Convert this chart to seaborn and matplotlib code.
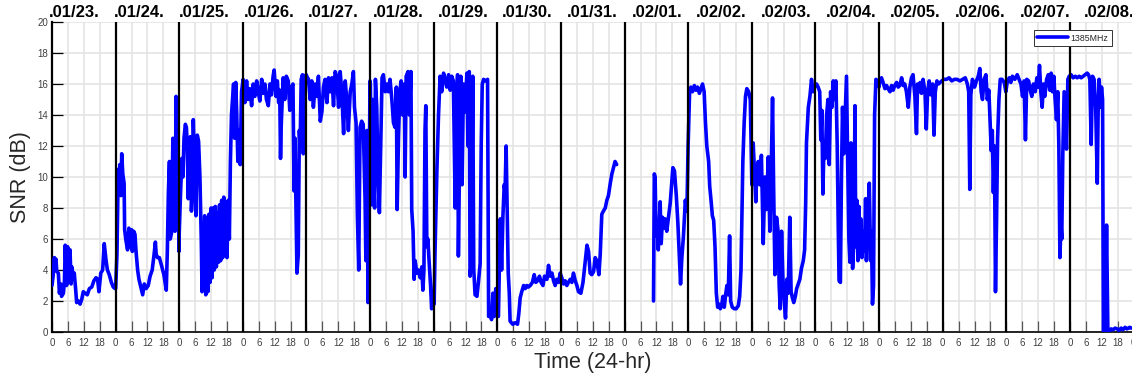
import numpy as np
import pandas as pd
import matplotlib
matplotlib.use("Agg")
import matplotlib.pyplot as plt
import matplotlib.transforms as mtransforms
import seaborn as sns

# ---- data -------------------------------------------------------------
day_labels = [".01/23.", ".01/24.", ".01/25.", ".01/26.", ".01/27.", ".01/28.",
              ".01/29.", ".01/30.", ".01/31.", ".02/01.", ".02/02.", ".02/03.",
              ".02/04.", ".02/05.", ".02/06.", ".02/07.", ".02/08."]
tick_labels = ["0", "6", "12", "18"]
series_name = "1385MHz"

# (hour of day, SNR in dB) per day
d0123 = [(0.0, 3.0), (0.4, 3.6), (0.9, 4.8), (1.2, 4.2), (1.5, 4.7), (1.8, 3.9), (2.4, 3.8),
         (2.8, 2.5), (3.3, 3.1), (3.6, 2.3), (4.3, 2.5), (4.7, 3.3), (5.0, 5.6), (5.5, 3.0),
         (5.9, 5.5), (6.3, 3.2), (6.8, 5.3), (7.2, 3.1), (7.5, 4.2), (8.1, 3.4), (8.4, 3.8),
         (8.9, 2.8), (9.3, 1.9), (9.9, 2.0), (10.6, 1.8), (11.2, 2.1), (11.8, 2.6), (12.5, 2.5),
         (13.3, 2.4), (14.1, 2.8), (15.0, 2.9), (15.8, 3.3), (16.6, 3.5), (17.2, 3.4), (17.7, 2.6),
         (18.4, 3.8), (19.1, 4.0), (19.7, 5.7), (20.4, 4.6), (20.9, 4.0), (21.6, 3.7), (22.4, 3.2),
         (23.1, 2.9), (23.8, 2.8)]
d0124 = [(0.0, 2.8), (0.5, 5.0), (1.0, 10.5), (1.3, 9.0), (1.6, 10.8), (2.0, 8.8), (2.3, 11.5),
         (2.7, 10.2), (3.2, 9.6), (3.4, 6.6), (3.9, 5.9), (4.5, 5.3), (5.0, 6.7), (5.5, 5.5),
         (6.0, 6.6), (6.3, 5.2), (6.8, 6.5), (7.3, 6.3), (7.7, 5.2), (8.3, 4.0), (8.8, 3.4),
         (9.5, 2.9), (10.2, 2.4), (10.8, 3.1), (11.5, 2.8), (12.3, 3.0), (13.0, 3.6), (13.8, 4.0),
         (14.5, 5.0), (15.0, 5.8), (15.3, 5.0), (15.8, 4.8), (16.5, 4.8), (17.3, 4.3), (18.2, 3.7),
         (19.1, 2.7), (19.5, 5.2), (19.9, 9.0), (20.3, 11.0), (20.6, 6.0), (21.1, 6.4), (21.6, 12.5),
         (22.0, 9.0), (22.4, 6.5), (22.8, 15.2), (23.2, 9.0), (23.6, 11.5), (23.9, 5.2)]
d0125 = [(0.0, 6.4), (0.5, 9.0), (1.0, 11.2), (1.4, 10.0), (1.8, 12.5), (2.3, 13.4), (2.7, 13.2),
         (3.0, 12.2), (3.4, 8.6), (3.8, 11.5), (4.2, 12.6), (4.6, 7.8), (5.0, 9.5), (5.3, 13.7),
         (5.8, 10.5), (6.3, 7.5), (6.8, 12.7), (7.3, 12.3), (7.8, 10.0), (8.3, 6.0), (8.6, 2.6),
         (8.9, 7.0), (9.2, 3.0), (9.6, 7.5), (10.0, 2.4), (10.4, 6.2), (10.8, 2.6), (11.2, 7.6),
         (11.6, 3.2), (12.0, 8.0), (12.4, 3.5), (12.8, 8.0), (13.2, 4.0), (13.6, 8.1), (14.0, 4.2),
         (14.4, 7.7), (14.8, 4.5), (15.2, 8.2), (15.6, 4.6), (16.0, 8.5), (16.4, 4.8), (16.8, 8.7),
         (17.2, 5.0), (17.6, 8.4), (18.0, 4.8), (18.5, 8.5), (18.9, 6.0), (19.3, 11.0), (19.7, 14.0),
         (20.1, 15.0), (20.5, 16.0), (20.9, 12.5), (21.3, 16.1), (21.7, 14.0), (22.1, 11.0),
         (22.5, 13.0), (23.0, 10.8), (23.5, 15.5), (23.9, 16.0)]
d0126 = [(0.1, 16.3), (0.75, 14.8), (1.4, 16.2), (2.0, 15.0), (2.6, 15.7), (3.3, 14.6), (3.9, 16.0),
         (4.5, 15.2), (5.2, 16.2), (5.8, 15.5), (6.4, 14.9), (7.1, 16.3), (7.7, 15.4), (8.3, 16.0),
         (8.9, 15.0), (9.6, 14.6), (10.2, 16.0), (10.8, 15.3), (11.4, 16.5), (11.8, 16.9),
         (12.5, 15.2), (13.0, 16.2), (13.5, 14.8), (13.9, 15.6), (14.2, 11.2), (14.5, 13.5),
         (15.2, 16.4), (15.8, 15.0), (16.4, 16.5), (17.1, 16.2), (17.7, 14.3), (18.3, 15.8),
         (18.9, 16.0), (19.3, 9.1), (19.7, 12.5), (20.0, 8.4), (20.4, 3.8), (20.9, 5.0),
         (21.3, 13.0), (21.6, 12.0), (22.0, 16.3), (22.5, 16.6), (22.8, 11.5), (23.3, 16.5),
         (23.9, 16.6)]
d0127 = [(0.1, 16.5), (0.75, 16.3), (1.4, 15.0), (2.0, 16.2), (2.6, 14.5), (3.3, 16.0), (3.9, 15.2),
         (4.5, 16.5), (5.2, 13.6), (5.8, 14.2), (6.4, 15.8), (7.0, 16.3), (7.7, 14.8), (8.3, 16.4),
         (8.9, 15.5), (9.6, 16.4), (10.2, 14.6), (10.8, 16.8), (11.4, 16.5), (12.1, 14.5),
         (12.7, 16.8), (13.3, 15.5), (14.0, 12.8), (14.6, 16.2), (15.2, 15.0), (15.8, 13.0),
         (16.5, 15.5), (17.1, 16.0), (17.7, 16.8), (18.1, 14.5), (18.7, 13.5), (19.2, 7.5),
         (19.7, 4.0), (20.2, 13.2), (20.8, 13.6), (21.4, 13.4), (22.1, 8.5), (22.4, 4.6),
         (22.8, 13.0), (23.2, 1.9), (23.6, 8.0), (23.95, 16.2)]
d0128 = [(0.1, 16.0), (0.5, 8.2), (0.9, 15.0), (1.3, 10.3), (1.7, 8.0), (2.0, 16.3), (2.5, 14.5),
         (3.0, 10.0), (3.5, 7.7), (4.0, 12.0), (4.5, 16.4), (5.0, 16.6), (5.7, 15.5), (6.3, 16.0),
         (6.9, 15.5), (7.5, 16.3), (8.2, 15.0), (8.8, 13.5), (9.4, 13.2), (9.9, 15.8), (10.2, 7.9),
         (10.7, 12.5), (11.2, 15.5), (11.7, 16.2), (12.3, 14.0), (12.9, 16.0), (13.2, 10.0),
         (13.6, 16.5), (14.3, 16.8), (14.8, 14.0), (15.4, 16.8), (15.7, 7.9), (16.2, 6.5),
         (16.6, 3.4), (17.0, 4.6), (17.6, 3.8), (18.2, 4.0), (18.9, 3.5), (19.5, 4.2), (19.9, 2.7),
         (20.3, 4.0), (20.7, 13.0), (21.0, 14.6), (21.4, 5.5), (21.8, 6.0), (22.2, 4.7),
         (22.8, 3.0), (23.2, 1.5), (23.6, 2.0), (23.95, 1.8)]
d0129 = [(0.15, 1.8), (0.5, 5.3), (1.2, 10.5), (1.8, 14.0), (2.4, 16.5), (3.0, 15.5), (3.7, 16.7),
         (4.3, 16.3), (4.9, 15.8), (5.6, 16.6), (6.2, 15.6), (6.8, 16.5), (7.4, 16.2), (8.1, 8.0),
         (8.5, 14.8), (9.0, 16.6), (9.3, 4.9), (9.7, 10.5), (10.2, 16.5), (10.7, 9.5), (11.2, 16.0),
         (11.8, 14.2), (12.5, 16.7), (12.9, 12.0), (13.4, 16.8), (13.7, 3.6), (14.2, 4.5),
         (14.7, 16.5), (15.1, 4.0), (15.6, 2.4), (16.3, 2.3), (16.9, 3.3), (17.5, 4.4), (17.9, 12.0),
         (18.3, 16.0), (18.8, 16.3), (19.5, 16.2), (20.3, 16.3), (20.7, 1.0), (21.3, 1.3),
         (21.8, 0.8), (22.3, 2.5), (22.8, 1.0), (23.4, 2.8), (23.9, 1.3)]
d0130 = [(0.4, 1.0), (1.1, 7.3), (1.6, 4.0), (2.1, 7.5), (2.6, 9.5), (2.9, 9.0), (3.3, 12.0),
         (3.7, 8.0), (4.1, 3.8), (4.5, 2.5), (4.8, 0.7), (5.8, 0.5), (6.8, 0.6), (7.6, 0.5),
         (8.1, 1.2), (8.6, 2.2), (9.2, 2.6), (9.9, 3.0), (10.5, 2.8), (11.1, 3.0), (11.7, 2.9),
         (12.4, 3.0), (13.2, 3.2), (13.9, 3.7), (14.5, 3.2), (15.1, 3.3), (15.9, 3.6), (16.5, 3.2),
         (17.2, 3.0), (17.8, 3.6), (18.7, 3.4), (19.3, 4.3), (19.9, 3.6), (20.6, 3.8), (21.2, 3.3),
         (21.8, 3.0), (22.4, 3.4), (23.1, 3.2), (23.7, 3.8)]
d0131 = [(0.3, 3.5), (1.0, 3.1), (1.6, 3.3), (2.2, 3.0), (2.8, 3.2), (3.5, 3.4), (4.1, 3.2),
         (4.7, 3.8), (5.4, 3.3), (6.0, 3.0), (6.6, 2.6), (7.5, 2.5), (8.3, 3.2), (9.1, 4.5),
         (9.8, 5.6), (10.4, 5.2), (11.0, 3.8), (11.6, 3.7), (12.3, 3.9), (12.9, 4.8), (13.5, 4.6),
         (14.3, 3.7), (14.8, 5.0), (15.4, 7.6), (16.0, 7.8), (16.7, 8.0), (17.3, 8.5), (17.9, 8.8),
         (18.6, 9.6), (19.2, 10.2), (19.8, 10.6), (20.4, 11.0), (21.0, 10.8)]
d0201 = [(10.9, 2.0), (11.2, 10.2), (11.5, 10.0), (11.9, 6.2), (12.3, 7.0), (12.7, 5.3), (13.1, 7.0),
         (13.4, 8.4), (13.8, 5.7), (14.3, 7.4), (14.8, 6.7), (15.3, 7.3), (15.9, 6.5), (16.6, 7.5),
         (17.2, 8.3), (17.7, 9.5), (18.2, 10.6), (18.8, 10.4), (19.5, 8.8), (20.1, 7.0), (20.6, 5.0),
         (21.1, 3.1), (21.6, 4.8), (22.2, 6.2), (22.9, 8.5), (23.5, 7.8), (23.95, 12.0)]
d0202 = [(0.5, 15.4), (1.0, 15.8), (1.6, 15.5), (2.3, 15.9), (2.9, 15.6), (3.5, 15.8), (4.2, 15.4),
         (4.8, 15.7), (5.4, 16.0), (6.0, 15.5), (6.5, 13.5), (7.0, 12.0), (7.7, 11.0), (8.1, 9.4),
         (8.6, 8.5), (9.1, 7.5), (9.6, 7.2), (10.1, 5.5), (10.6, 2.5), (11.1, 1.6), (11.6, 1.8),
         (12.1, 1.5), (12.6, 1.7), (13.1, 2.3), (13.6, 1.6), (14.1, 2.4), (14.6, 3.0), (15.1, 2.4),
         (15.6, 6.2), (16.0, 2.0), (16.6, 1.6), (17.4, 1.5), (18.1, 1.5), (18.9, 1.7), (19.4, 2.3),
         (19.9, 4.0), (20.3, 8.0), (20.6, 11.0), (21.1, 13.5), (21.6, 15.2), (22.1, 15.7),
         (22.8, 15.5), (23.4, 15.0), (23.8, 11.5)]
d0203 = [(0.0, 9.5), (0.5, 12.2), (1.1, 10.0), (1.5, 8.4), (1.9, 10.6), (2.4, 11.0), (3.0, 9.5),
         (3.6, 11.4), (4.3, 5.7), (4.9, 10.0), (5.5, 7.9), (6.2, 11.3), (6.8, 6.5), (7.3, 10.5),
         (7.8, 15.1), (8.2, 9.5), (8.7, 3.7), (9.3, 7.4), (9.9, 6.5), (10.3, 3.0), (10.7, 1.5),
         (11.2, 6.5), (11.7, 3.5), (12.2, 2.0), (12.7, 0.9), (13.2, 3.4), (13.7, 2.5), (14.3, 7.4),
         (14.8, 2.6), (15.3, 2.2), (15.8, 1.9), (16.4, 2.3), (16.9, 2.8), (17.5, 3.1), (18.1, 3.4),
         (18.7, 4.1), (19.4, 4.6), (19.9, 5.3), (20.3, 8.3), (20.6, 12.2), (21.3, 14.5),
         (21.9, 15.2), (22.5, 16.3), (23.1, 15.5), (23.8, 15.9)]
d0204 = [(0.4, 16.0), (1.0, 15.8), (1.6, 15.5), (2.0, 12.4), (2.4, 14.3), (2.8, 8.9), (3.2, 12.2),
         (3.7, 11.2), (4.2, 14.0), (4.7, 15.0), (5.2, 10.8), (5.7, 15.5), (6.2, 14.5), (6.7, 16.2),
         (7.2, 15.0), (7.7, 16.2), (8.2, 12.0), (8.6, 6.6), (8.9, 3.3), (9.4, 3.2), (9.8, 10.0),
         (10.2, 14.5), (10.7, 11.5), (11.2, 14.0), (11.7, 16.5), (12.1, 11.5), (12.6, 6.0),
         (13.0, 4.5), (13.4, 12.2), (13.7, 7.0), (14.0, 4.1), (14.5, 6.0), (14.9, 14.6),
         (15.2, 5.5), (15.6, 8.5), (16.0, 4.6), (16.4, 8.1), (16.7, 5.0), (17.1, 7.3), (17.5, 4.8),
         (18.0, 6.5), (18.5, 5.2), (18.9, 8.6), (19.2, 4.6), (19.7, 7.0), (20.3, 9.6), (20.8, 4.6),
         (21.1, 6.5), (21.5, 1.8), (21.9, 3.0), (22.3, 14.0), (22.8, 16.3), (23.5, 16.2),
         (23.95, 15.8)]
d0205 = [(0.3, 16.2), (0.9, 16.4), (1.5, 16.1), (2.2, 15.7), (2.8, 15.9), (3.4, 15.7), (4.1, 15.5),
         (4.7, 15.9), (5.3, 15.6), (5.9, 15.9), (6.6, 16.1), (7.2, 15.8), (7.8, 15.9), (8.5, 16.4),
         (9.1, 15.9), (9.7, 16.0), (10.3, 15.5), (11.0, 14.5), (11.6, 15.8), (12.2, 16.4),
         (12.8, 16.6), (13.5, 15.2), (14.1, 12.8), (14.5, 16.0), (15.0, 15.5), (15.5, 16.1),
         (16.0, 15.4), (16.6, 16.3), (17.3, 15.5), (17.8, 13.1), (18.3, 15.5), (18.9, 16.2),
         (19.5, 15.3), (20.2, 16.0), (20.7, 12.7), (21.2, 15.5), (21.8, 16.2), (22.4, 16.0),
         (23.0, 16.1), (23.7, 16.2)]
d0206 = [(0.4, 16.3), (1.4, 16.3), (2.4, 16.4), (3.4, 16.2), (4.4, 16.3), (5.4, 16.3), (6.5, 16.2),
         (7.5, 16.3), (8.5, 16.4), (9.3, 16.0), (9.8, 15.5), (10.2, 9.2), (10.6, 15.3), (11.2, 16.3),
         (12.0, 15.8), (12.7, 16.2), (13.4, 16.5), (14.0, 17.0), (14.5, 15.5), (15.0, 15.0),
         (15.6, 16.3), (16.3, 16.6), (16.8, 15.0), (17.4, 15.6), (17.9, 13.5), (18.3, 11.7),
         (18.7, 13.0), (19.1, 9.0), (19.5, 12.0), (19.9, 2.6), (20.3, 7.2), (20.7, 12.5),
         (21.2, 15.0), (21.7, 16.3), (22.4, 16.3), (23.2, 16.1), (23.8, 15.5)]
d0207 = [(0.4, 16.2), (1.1, 16.4), (1.7, 16.1), (2.3, 16.5), (3.2, 16.3), (4.1, 16.6), (4.8, 16.3),
         (5.5, 16.0), (6.1, 15.2), (6.7, 16.2), (7.2, 12.4), (7.7, 16.3), (8.4, 16.2), (9.0, 15.6),
         (9.6, 15.2), (10.2, 16.0), (10.9, 15.5), (11.5, 16.4), (12.0, 15.8), (12.5, 17.2),
         (13.0, 15.5), (13.5, 14.5), (14.0, 16.0), (14.5, 15.2), (15.2, 16.3), (15.8, 16.6),
         (16.4, 15.6), (16.9, 16.7), (17.4, 15.5), (17.9, 16.5), (18.4, 15.0), (18.9, 13.7),
         (19.4, 15.5), (19.8, 12.0), (20.2, 4.8), (20.6, 7.0), (20.9, 6.0), (21.3, 11.5),
         (21.8, 15.5), (22.3, 13.5), (22.7, 11.8), (23.2, 16.3), (23.7, 16.5)]
d0208 = [(0.4, 16.6), (1.2, 16.4), (2.0, 16.5), (2.7, 16.4), (3.5, 16.5), (4.2, 16.4), (5.0, 16.5),
         (5.7, 16.6), (6.5, 16.7), (7.0, 16.6), (7.5, 16.3), (8.0, 12.1), (8.5, 16.5), (9.1, 16.3),
         (9.7, 14.5), (10.3, 9.6), (10.6, 14.0), (11.0, 16.3), (11.5, 14.5), (11.9, 15.8),
         (12.3, 15.0), (12.6, 0.1), (13.3, 0.0), (13.8, 6.9), (14.3, 0.0), (14.8, 0.05),
         (15.5, 0.2), (16.3, 0.15), (17.0, 0.25), (17.8, 0.2), (18.5, 0.1), (19.3, 0.25),
         (20.0, 0.15), (20.8, 0.3), (21.5, 0.2), (22.5, 0.3), (23.2, 0.25)]

days = [d0123, d0124, d0125, d0126, d0127, d0128, d0129, d0130, d0131,
        d0201, d0202, d0203, d0204, d0205, d0206, d0207, d0208]
# reception pauses between the evening of 01/31 and the morning of 02/01
resume_day = day_labels.index(".02/01.")

rows = []
for i, day in enumerate(days):
    seg = 0 if i < resume_day else 1
    for h, v in day:
        rows.append((24 * i + h, v, seg))
df = pd.DataFrame(rows, columns=["hour", "snr", "segment"])

# ---- figure -------------------------------------------------------------
sns.set_style("white")
plt.rcParams["font.family"] = ["Liberation Sans", "DejaVu Sans"]

W, H = 1132, 379
fig = plt.figure(figsize=(W / 100, H / 100), dpi=100)
ax = fig.add_axes([52 / W, 47 / H, 1081.6 / W, 310 / H])

n_days = len(day_labels)
ax.set_xlim(0, 24 * n_days)
ax.set_ylim(0, 20)
ax.set_xticks(np.arange(0, 24 * n_days + 1, 6))
ax.set_xticklabels([tick_labels[k % 4] for k in range(4 * n_days + 1)])
ax.set_yticks(np.arange(0, 21, 2))
ax.grid(True, color="#e2e2e2", lw=1.1)
ax.set_axisbelow(True)

sns.lineplot(data=df, x="hour", y="snr", units="segment", estimator=None, sort=False,
             color="#0000ff", lw=2.6, label=series_name, ax=ax, zorder=4)

for d in range(1, n_days):
    ax.axvline(24 * d, color="black", lw=1.6, zorder=5)

for side in ("top", "right"):
    ax.spines[side].set_visible(False)
ax.spines["left"].set_color("black")
ax.spines["left"].set_linewidth(1.6)
ax.spines["bottom"].set_color("black")
ax.spines["bottom"].set_linewidth(1.2)

ax.tick_params(axis="y", direction="in", length=8, width=0.9, color="black",
               labelsize=7, labelcolor="#404040", pad=3, left=True)
ax.tick_params(axis="x", direction="in", length=8, width=0.9, color="#555555",
               labelsize=7, labelcolor="#404040", pad=4, bottom=True)

ax.set_xlabel("Time (24-hr)", fontsize=15.5, color="#262626", labelpad=3)
ax.set_ylabel("SNR (dB)", fontsize=15.5, color="#262626", labelpad=4)

trans = mtransforms.blended_transform_factory(ax.transData, ax.transAxes)
for i, lab in enumerate(day_labels):
    ax.text(24.4 * i - 1, 1.016, lab, transform=trans, ha="left", va="baseline",
            fontsize=12, fontweight="bold", color="black", clip_on=False)

handles, _ = ax.get_legend_handles_labels()
leg = ax.legend(handles[:1], [series_name], loc="upper right",
                bbox_to_anchor=(0.9800, 0.974), borderaxespad=0, fontsize=6.3,
                frameon=True, fancybox=False, framealpha=1, edgecolor="#333333",
                handlelength=3.5, handletextpad=0.35, borderpad=0.4)
leg.get_frame().set_linewidth(0.7)

fig.savefig("out.png", dpi=100)
